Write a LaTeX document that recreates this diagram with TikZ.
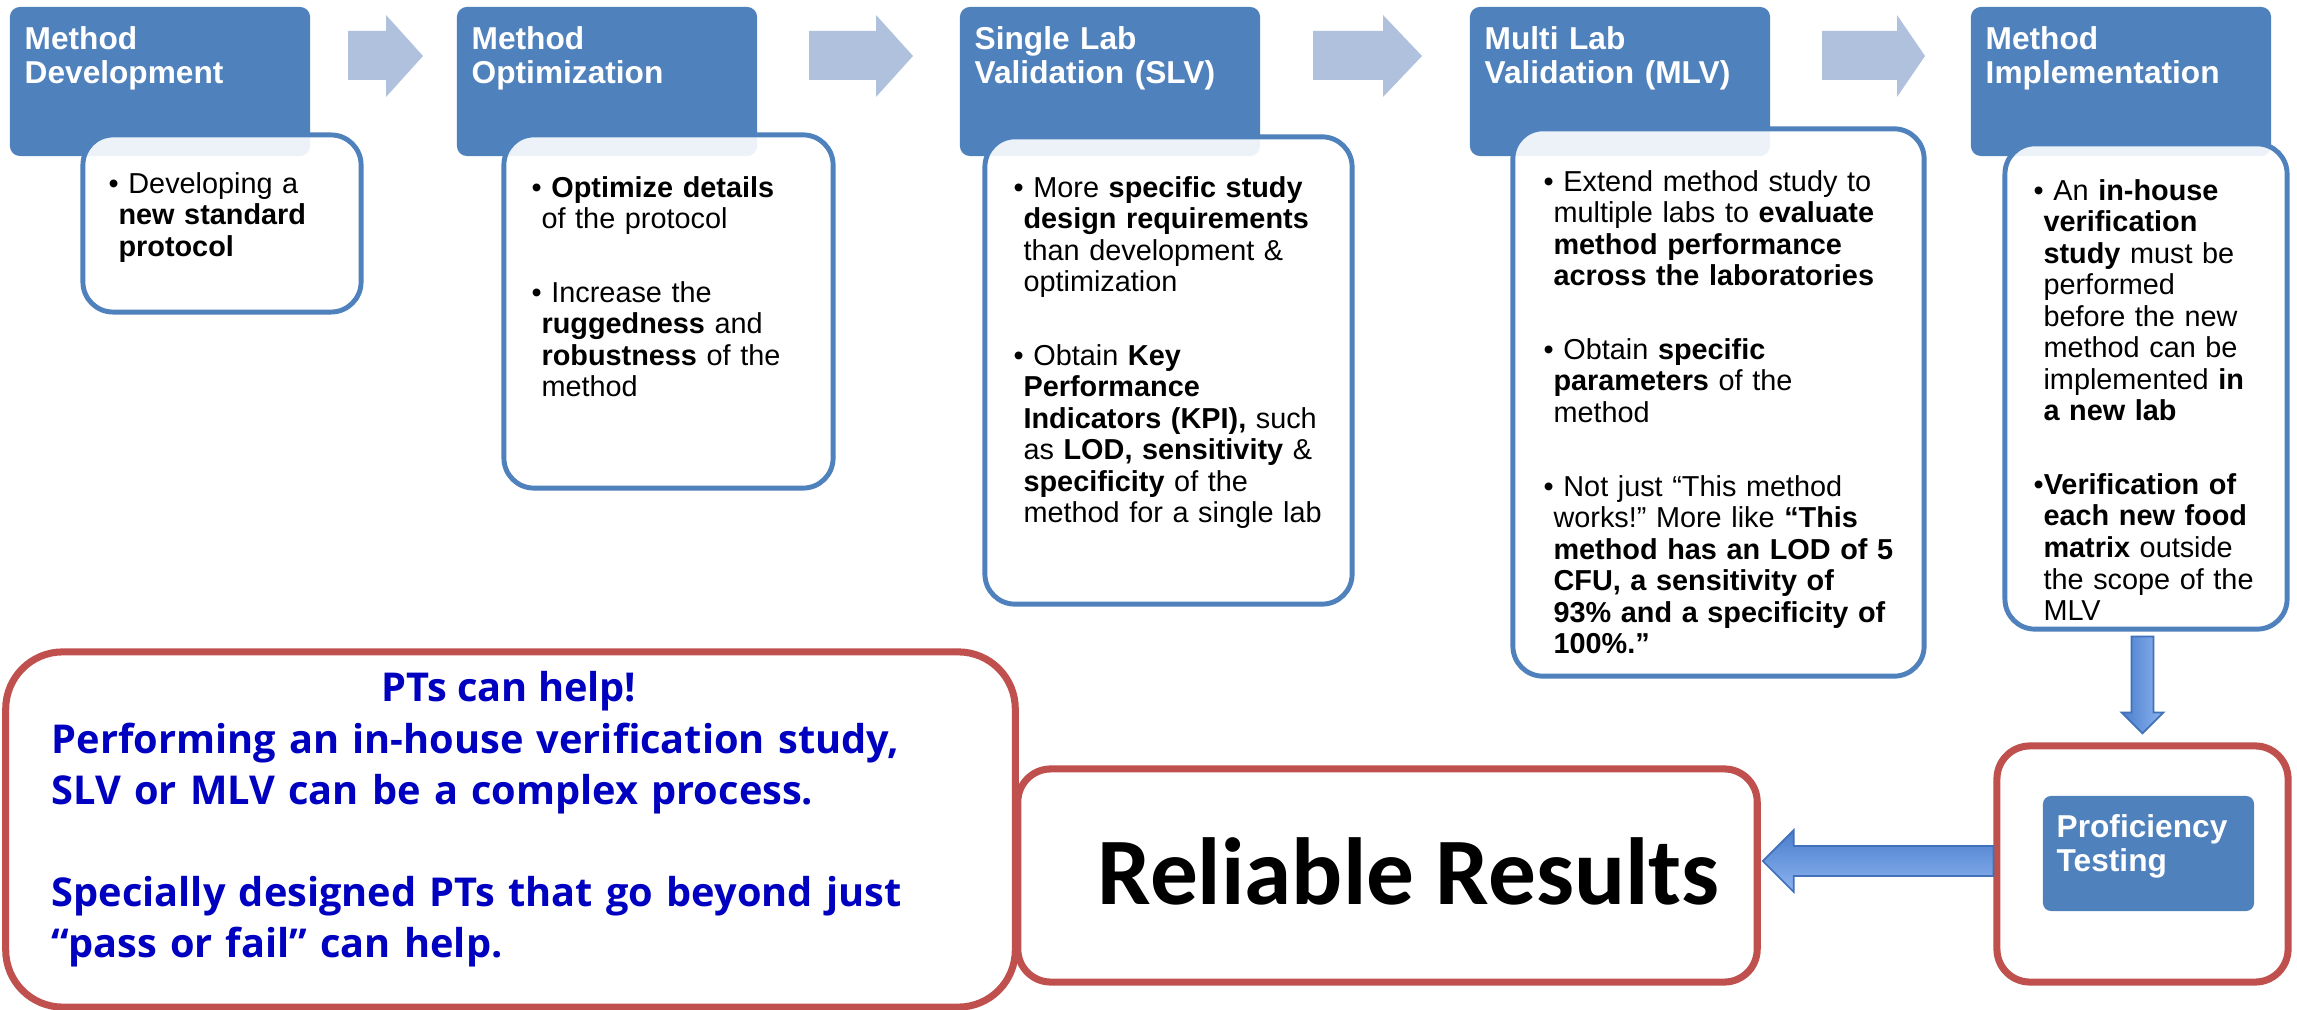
\documentclass[tikz,border=0pt]{standalone}
\usepackage{fontspec}
\setmainfont{Liberation Sans}
\newfontfamily\calibri{Carlito}
\newfontfamily\notefont{Open Sans}
\usetikzlibrary{calc,positioning}
\definecolor{hdrblue}{RGB}{79,129,189}
\definecolor{chevblue}{RGB}{176,193,222}
\definecolor{boxred}{RGB}{192,80,77}
\definecolor{notetext}{RGB}{0,0,192}
\definecolor{arrdark}{RGB}{74,126,204}
\definecolor{arrlight}{RGB}{141,180,240}
\definecolor{arredge}{RGB}{65,113,185}
\setlength{\parindent}{0pt}
\frenchspacing
\newlength{\bhang}\setlength{\bhang}{2.8pt}
% one bullet paragraph, later lines hung under the text
\newcommand{\bpt}[2][\ ]{\par\leftskip=\bhang\noindent\hspace*{-\bhang}\strut\textbullet#1#2\par}
\newcommand{\bgap}{\par\vspace{12pt}}
\begin{document}
\begin{tikzpicture}[x=0.01cm, y=-0.01cm,
  hdr/.style={fill=hdrblue, rounded corners=0.1cm, minimum width=3cm, minimum height=1.49cm, inner sep=0},
  body/.style={draw=hdrblue, line width=1.4pt, fill=white, fill opacity=0.9, rounded corners=0.3cm, inner sep=0},
  redbox/.style={draw=boxred, line width=2pt, fill=white, inner sep=0},
  hdrtxt/.style={anchor=north west, inner sep=0, text width=2.9cm, align=left, text=white,
    font=\bfseries\fontsize{9}{9.67}\selectfont},
  bodytxt/.style={anchor=north west, inner sep=0, text width=4cm, align=left,
    font=\fontsize{8.2}{8.96}\selectfont},
  notetxt/.style={inner sep=0, text=notetext, font=\notefont\bfseries\fontsize{11.3}{14.5}\selectfont},
  chev/.style={fill=chevblue},
  bigarrow/.style={draw=arredge, line width=0.5pt}]
  \path[use as bounding box, fill=white] (0,0) rectangle (2297,1010);

  % step headers and the arrows between them
  \foreach \x [count=\i] in {160,607,1110,1620,2121}
    \node[hdr] (h\i) at (\x,81.5) {};
  \foreach \xa/\xb/\xc in {348/386/423, 809/876/913, 1313/1383/1422, 1822/1897/1925}
    \fill[chev] (\xa,31) -- (\xb,31) -- (\xb,15) -- (\xc,56) -- (\xb,97) -- (\xb,80) -- (\xa,80) -- cycle;

  % step bodies
  \node[body, minimum width=2.78cm, minimum height=1.77cm] (b1) at (222,223.5) {};
  \node[body, minimum width=3.29cm, minimum height=3.53cm] (b2) at (668.5,311.5) {};
  \node[body, minimum width=3.67cm, minimum height=4.67cm] (b3) at (1168.5,370.5) {};
  \node[body, minimum width=4.11cm, minimum height=5.47cm] (b4) at (1718.5,402.5) {};
  \node[body, minimum width=2.82cm, minimum height=4.85cm] (b5) at (2146,386.5) {};

  \node[hdrtxt] (h1t) at (24,25) {\strut Method\\Development};
  \node[hdrtxt] (h2t) at (471,25) {\strut Method\\Optimization};
  \node[hdrtxt] (h3t) at (974,25) {\strut Single Lab\\Validation (SLV)};
  \node[hdrtxt] (h4t) at (1484,25) {\strut Multi Lab\\Validation (MLV)};
  \node[hdrtxt] (h5t) at (1985,25) {\strut Method\\Implementation};

  \node[bodytxt] (b1t) at (108,161) {\bpt{Developing a\\ \textbf{new standard}\\ \textbf{protocol}}};
  \node[bodytxt] (b2t) at (531,165) {\bpt{\textbf{Optimize details}\\ of the protocol}\bgap
    \bpt{Increase the\\ \textbf{ruggedness} and\\ \textbf{robustness} of the\\ method}};
  \node[bodytxt] (b3t) at (1013,165) {\bpt{More \textbf{specific study}\\ \textbf{design requirements}\\ than development \&\\ optimization}\bgap
    \bpt{Obtain \textbf{Key}\\ \textbf{Performance}\\ \textbf{Indicators (KPI),} such\\ as \textbf{LOD, sensitivity} \&\\ \textbf{specificity} of the\\ method for a single lab}};
  \node[bodytxt] (b4t) at (1543,159) {\bpt{Extend method study to\\ multiple labs to \textbf{evaluate}\\ \textbf{method performance}\\ \textbf{across the laboratories}}\bgap
    \bpt{Obtain \textbf{specific}\\ \textbf{parameters} of the\\ method}\bgap
    \bpt{Not just “This method\\ works!” More like \textbf{“This}\\ \textbf{method has an LOD of 5}\\ \textbf{CFU, a sensitivity of}\\ \textbf{93\% and a specificity of}\\ \textbf{100\%.”}}};
  \node[bodytxt] (b5t) at (2033,168) {\bpt{An \textbf{in-house}\\ \textbf{verification}\\ \textbf{study} must be\\ performed\\ before the new\\ method can be\\ implemented \textbf{in}\\ \textbf{a new lab}}\bgap
    \bpt[]{\textbf{Verification of}\\ \textbf{each new food}\\ \textbf{matrix} outside\\ the scope of the\\ MLV}};

  % bottom row
  \node[redbox, rounded corners=0.57cm, minimum width=10.09cm, minimum height=3.55cm] (note) at (510.5,829.5) {};
  \node[redbox, rounded corners=0.33cm, minimum width=7.39cm, minimum height=2.13cm] (res) at (1387.5,875.5) {};
  \node[redbox, rounded corners=0.33cm, minimum width=2.91cm, minimum height=2.36cm] (pt) at (2142.5,864) {};
  \node[fill=hdrblue, rounded corners=0.08cm, minimum width=2.11cm, minimum height=1.15cm, inner sep=0] (ptin) at (2148.5,853.5) {};

  \node[notetxt, anchor=base] (nt) at (509,702) {PTs can help!};
  \node[notetxt, anchor=north west, text width=9.4cm, align=left] (nb) at (51,717)
    {\strut Performing an in-house verification study,\\ SLV or MLV can be a complex process.\\[14.5pt]
     Specially designed PTs that go beyond just\\ “pass or fail” can help.};
  \node[anchor=base west, inner sep=0, font=\calibri\bfseries\fontsize{27.1}{30}\selectfont] (rt) at (1097,904) {Reliable Results};
  \node[hdrtxt, text width=2cm] (ptt) at (2056,813) {\strut Proficiency\\Testing};

  % block arrows
  \coordinate (dt) at ($(pt.north)+(0,-9)$);
  \coordinate (ds) at (dt |- b5.south);
  \draw[bigarrow, left color=arrdark, right color=arrlight]
    ($(ds)+(-11,5)$) -- ($(dt)+(-11,-21)$) -- ($(dt)+(-21,-21)$) -- (dt)
    -- ($(dt)+(21,-21)$) -- ($(dt)+(11,-21)$) -- ($(ds)+(11,5)$) -- cycle;
  \coordinate (ly) at (0,861);
  \coordinate (lt) at ($(res.east |- ly)+(2,0)$);
  \coordinate (le) at (pt.west |- ly);
  \draw[bigarrow, top color=arrdark, bottom color=arrlight]
    (lt) -- ($(lt)+(31,-31)$) -- ($(lt)+(31,-15)$) -- ($(le)+(0,-15)$)
    -- ($(le)+(0,15)$) -- ($(lt)+(31,15)$) -- ($(lt)+(31,31)$) -- cycle;
\end{tikzpicture}
\end{document}
